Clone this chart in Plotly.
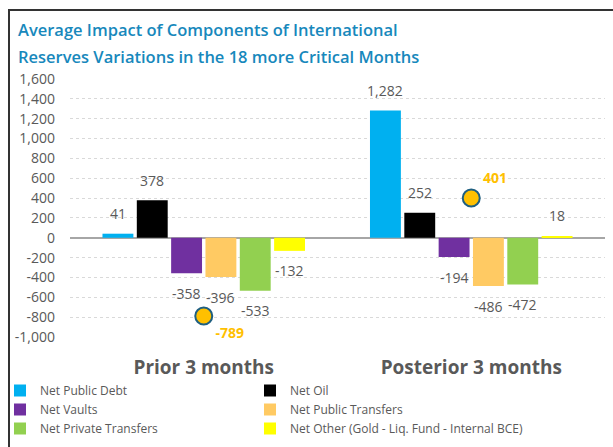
import plotly.graph_objects as go

# ---------------- data ----------------
CATEGORIES = ["Prior 3 months", "Posterior 3 months"]
SERIES_NAMES = ["Net Public Debt", "Net Oil", "Net Vaults", "Net Public Transfers",
                "Net Private Transfers", "Net Other (Gold - Liq. Fund - Internal BCE)"]
NET_PUBLIC_DEBT = [41, 1282]
NET_OIL = [378, 252]
NET_VAULTS = [-358, -194]
NET_PUBLIC_TRANSFERS = [-396, -486]
NET_PRIVATE_TRANSFERS = [-533, -472]
NET_OTHER = [-132, 18]
TOTAL = [-789, 401]
Y_TICKS = list(range(-1000, 1601, 200))
Y_TICK_LABELS = [f"{v:,}" for v in Y_TICKS]

SERIES_VALUES = [NET_PUBLIC_DEBT, NET_OIL, NET_VAULTS, NET_PUBLIC_TRANSFERS,
                 NET_PRIVATE_TRANSFERS, NET_OTHER]
COLORS = ["#00B0F0", "#000000", "#7030A0", "#FFCA63", "#92D050", "#FFFF00"]
LEGEND_IDS = ["legend", "legend2", "legend", "legend2", "legend", "legend2"]

# ---------------- layout constants ----------------
W, H = 613, 447
ML, MR, MT, MB = 70, 8, 79, 110
PW, PH = W - ML - MR, H - MT - MB
BARGAP, BARGROUPGAP = 0.23, 0.10
FONT = "Open Sans"
GRAY = "#595959"
TITLE_COLOR = "#1788BC"


def px_x(px):
    return (px - ML) / PW


def px_y(py):
    return (MT + PH - py) / PH


fig = go.Figure()
for name, vals, col, lg in zip(SERIES_NAMES, SERIES_VALUES, COLORS, LEGEND_IDS):
    fig.add_trace(go.Bar(name=name, x=CATEGORIES, y=vals, marker_color=col,
                         marker_line_width=0, legend=lg))

fig.add_trace(go.Scatter(
    x=CATEGORIES, y=TOTAL, mode="markers+text", showlegend=False,
    marker=dict(size=17, color="#FFC000", line=dict(color="#1F5F80", width=2)),
    text=[f"{v:,}" for v in TOTAL], textposition=["bottom right", "top right"],
    textfont=dict(family=FONT, size=14, color="#FFC000", weight="bold"),
    cliponaxis=False,
))

# value labels for bars
slot = (PW / len(CATEGORIES)) * (1 - BARGAP) / len(SERIES_VALUES)
n = len(SERIES_VALUES)
for i, vals in enumerate(SERIES_VALUES):
    for cat, v in zip(CATEGORIES, vals):
        fig.add_annotation(
            x=cat, y=v, xref="x", yref="y", text=f"{v:,}", showarrow=False,
            xshift=(i - (n - 1) / 2) * slot, yshift=20 if v >= 0 else -20,
            font=dict(family=FONT, size=14, color=GRAY),
        )

# title
fig.add_annotation(x=px_x(16), y=px_y(29), xref="paper", yref="paper", xanchor="left",
                   yanchor="middle", showarrow=False,
                   text="Average Impact of Components of International",
                   font=dict(family=FONT, size=16.5, color=TITLE_COLOR, weight=600))
fig.add_annotation(x=px_x(16), y=px_y(56), xref="paper", yref="paper", xanchor="left",
                   yanchor="middle", showarrow=False,
                   text="Reserves Variations in the 18 more Critical Months",
                   font=dict(family=FONT, size=16.5, color=TITLE_COLOR, weight=600))

# frame
fig.add_shape(type="rect", xref="paper", yref="paper",
              x0=px_x(9), x1=px_x(800), y0=px_y(800), y1=px_y(10),
              line=dict(color="#333333", width=2), layer="above")

legend_common = dict(orientation="v", xanchor="left", yanchor="top", itemwidth=30,
                     font=dict(family=FONT, size=12, color=GRAY), traceorder="normal",
                     bgcolor="rgba(0,0,0,0)", xref="container", yref="container",
                     y=(H - 376) / H, tracegroupgap=0)

fig.update_layout(
    width=W, height=H, margin=dict(l=ML, r=MR, t=MT, b=MB, autoexpand=False),
    paper_bgcolor="white", plot_bgcolor="white",
    barmode="group", bargap=BARGAP, bargroupgap=BARGROUPGAP,
    font=dict(family=FONT, color=GRAY),
    showlegend=True,
    legend=dict(x=0, **legend_common),
    legend2=dict(x=250 / W, **legend_common),
    xaxis=dict(showgrid=False, showline=False, ticks="",
               tickfont=dict(family=FONT, size=19, color=GRAY, weight="bold"),
               ticklabelstandoff=17),
    yaxis=dict(range=[-1000, 1600], tickvals=Y_TICKS, ticktext=Y_TICK_LABELS,
               showgrid=True, gridcolor="#D9D9D9", griddash="dot", gridwidth=1,
               zeroline=True, zerolinecolor="#A6A6A6", zerolinewidth=1.5,
               showline=False, ticks="", ticklabelstandoff=14,
               tickfont=dict(family=FONT, size=14, color=GRAY)),
)

fig.write_html("out.html", config={"displayModeBar": False},
               post_script="document.body.style.margin='0';document.body.style.overflow='hidden';")
